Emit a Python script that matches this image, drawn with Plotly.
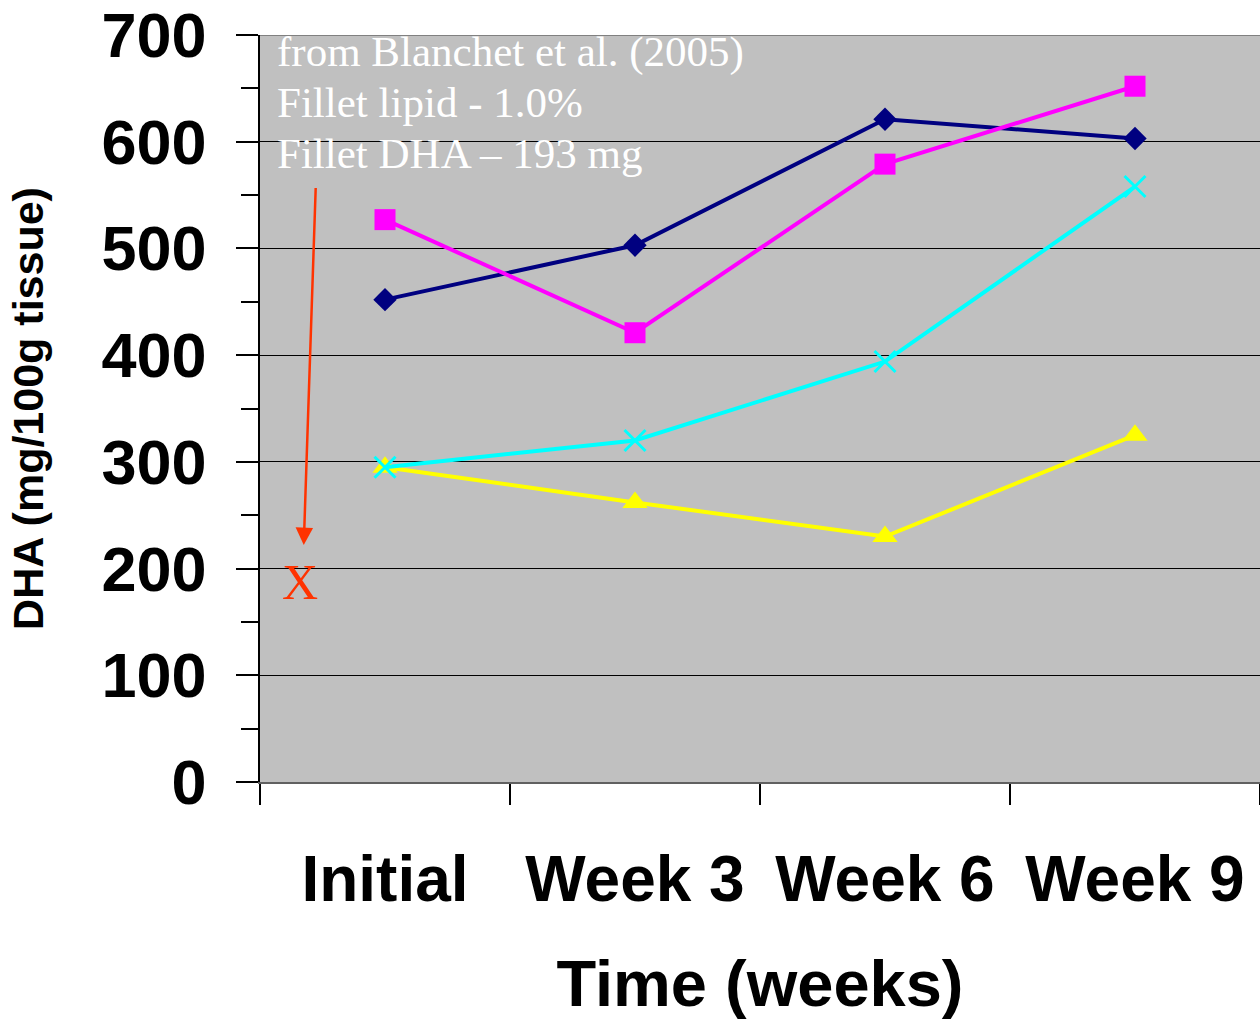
import plotly.graph_objects as go

# Sampling times
weeks = ["Initial", "Week 3", "Week 6", "Week 9"]

# DHA content (mg/100g tissue) for each diet group
dha_navy = [452, 503, 621, 603]
dha_magenta = [527, 421, 579, 652]
dha_yellow = [295, 262, 230, 325]
dha_cyan = [295, 320, 394, 558]

# Reference value from Blanchet et al. (2005)
ref_dha = 193
ref_notes = ["from Blanchet et al. (2005)", "Fillet lipid - 1.0%", "Fillet DHA \u2013 193 mg"]

y_ticks = [0, 100, 200, 300, 400, 500, 600, 700]

SANS = "Liberation Sans, Arial, sans-serif"
SERIF = "Liberation Serif, Times New Roman, serif"
REF_RED = "#FF3300"

fig = go.Figure()

series = [
    (dha_navy, "#000080", dict(symbol="diamond", size=18)),
    (dha_magenta, "#FF00FF", dict(symbol="square", size=21)),
    (dha_yellow, "#FFFF00", dict(symbol="triangle-up", size=22)),
    (dha_cyan, "#00FFFF", dict(symbol="x-thin", size=21, line=dict(width=3, color="#00FFFF"))),
]
for vals, color, mk in series:
    fig.add_trace(go.Scatter(
        x=weeks, y=vals, mode="lines+markers",
        line=dict(color=color, width=4),
        marker=dict(color=color, **mk),
        showlegend=False, cliponaxis=False,
    ))

# Top border of the plotting area
fig.add_shape(type="line", xref="paper", yref="y", x0=0, x1=1, y0=700, y1=700,
              line=dict(color="#808080", width=2))

# Note lines in the upper-left corner
for i, txt in enumerate(ref_notes):
    fig.add_annotation(
        xref="paper", yref="paper", x=0.015, y=1.0 - i * 0.0681,
        xanchor="left", yanchor="top", yshift=9,
        text=txt, showarrow=False,
        font=dict(family=SERIF, size=43, color="white"),
    )

# Reference value marker with pointing arrow
ref_x = -0.34
fig.add_annotation(
    x=ref_x, y=ref_dha, xref="x", yref="y", text="X", showarrow=False, yshift=-6,
    font=dict(family=SERIF, size=50, color=REF_RED),
)
fig.add_annotation(
    x=-0.325, y=222, xref="x", yref="y", axref="x", ayref="y",
    ax=-0.277, ay=558, text="", showarrow=True,
    arrowcolor=REF_RED, arrowwidth=2.5, arrowhead=2, arrowsize=1.4,
)

fig.update_layout(
    width=1260, height=1020,
    margin=dict(l=260, r=0, t=33, b=238),
    paper_bgcolor="white", plot_bgcolor="#C0C0C0",
    xaxis=dict(
        type="category", range=[-0.5, 3.5], tickson="boundaries",
        ticks="outside", ticklen=21, tickwidth=1.5, tickcolor="black",
        showline=True, linecolor="#606060", linewidth=2,
        showgrid=False, ticklabelstandoff=40,
        tickfont=dict(family=SANS, size=64, color="black", weight="bold"),
        title=dict(text="Time (weeks)", standoff=55,
                   font=dict(family=SANS, size=65, color="black", weight="bold")),
    ),
    yaxis=dict(
        range=[0, 700], tickvals=y_ticks, ticklabeloverflow="allow",
        ticks="outside", ticklen=22, tickwidth=1.5, tickcolor="black",
        minor=dict(dtick=50, ticks="outside", ticklen=17, tickcolor="black", showgrid=False),
        showline=True, linecolor="black", linewidth=1.5,
        showgrid=True, gridcolor="black", gridwidth=1,
        zeroline=False, ticklabelstandoff=17,
        tickfont=dict(family=SANS, size=63, color="black", weight="bold"),
        title=dict(text="DHA (mg/100g tissue)", standoff=44,
                   font=dict(family=SANS, size=43, color="black", weight="bold")),
    ),
)

fig.write_html("out.html")
